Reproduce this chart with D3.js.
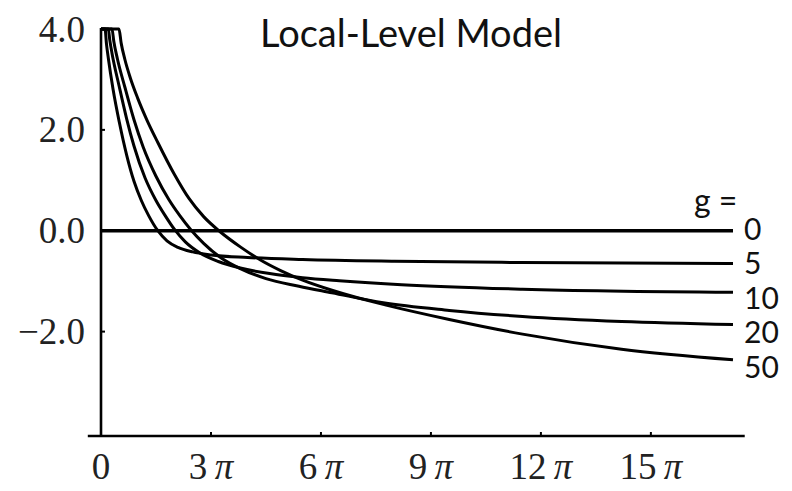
<!DOCTYPE html>
<html>
<head>
<meta charset="utf-8">
<script src="https://cdn.jsdelivr.net/npm/d3@7"></script>
<style>
  html, body { margin: 0; padding: 0; background: #fff; }
  svg { display: block; }
</style>
</head>
<body>
<svg id="chart" width="792" height="491"></svg>
<script>
// Frequency in multiples of pi, value of each curve (clipped at 4.0 near the origin)
const g0  = [[0, 0], [17.24, 0]];
const g5  = [[0, 4], [0.11, 4], [0.15, 3.7], [0.2, 3.42], [0.33, 2.8], [0.5, 2.15], [0.7, 1.5],
             [0.9, 0.98], [1.1, 0.6], [1.3, 0.3], [1.55, 0.0], [1.8, -0.2], [2.1, -0.33],
             [2.5, -0.42], [3.0, -0.48], [4.0, -0.53], [5.5, -0.57], [8.0, -0.605],
             [11.5, -0.63], [17.24, -0.65]];
const g10 = [[0, 4], [0.2, 4], [0.24, 3.78], [0.3, 3.52], [0.5, 2.85], [0.7, 2.22], [0.9, 1.68],
             [1.2, 1.05], [1.5, 0.6], [1.75, 0.3], [2.0, 0.03], [2.3, -0.22], [2.7, -0.44],
             [3.2, -0.61], [3.8, -0.74], [4.6, -0.85], [5.5, -0.93], [6.5, -0.99],
             [8.2, -1.07], [11.5, -1.16], [17.24, -1.22]];
const g20 = [[0, 4], [0.3, 4], [0.35, 3.75], [0.45, 3.4], [0.65, 2.85], [0.9, 2.2], [1.15, 1.66],
             [1.5, 1.08], [1.85, 0.62], [2.15, 0.3], [2.45, 0.02], [2.8, -0.25], [3.3, -0.55],
             [3.8, -0.75], [4.5, -0.95], [5.4, -1.1], [6.3, -1.23], [7.7, -1.43],
             [9.5, -1.58], [11.5, -1.70], [14.2, -1.80], [17.24, -1.86]];
const g50 = [[0, 4], [0.49, 4], [0.55, 3.72], [0.65, 3.4], [0.8, 3.03], [1.0, 2.63], [1.25, 2.2],
             [1.55, 1.75], [2.0, 1.12], [2.4, 0.64], [2.8, 0.28], [3.25, -0.02], [3.8, -0.32],
             [4.35, -0.58], [4.9, -0.79], [5.5, -0.98], [6.3, -1.18], [7.0, -1.33],
             [7.75, -1.47], [9.5, -1.76], [11.5, -2.05], [14.2, -2.35], [17.24, -2.56]];

const seriesNames = ["0", "5", "10", "20", "50"];
const seriesData  = [g0, g5, g10, g20, g50];

const xTicks = [0, 3, 6, 9, 12, 15];
const yTicks = [4, 2, 0, -2];
const titleText = "Local-Level Model";
const legendHead = "g =";

const svg = d3.select("#chart");

const x = d3.scaleLinear().domain([0, 17.24]).range([101, 733]);
const y = d3.scaleLinear().domain([-4.07, 4]).range([436, 29]);

// axis lines
svg.append("line")
  .attr("x1", x(-0.36)).attr("x2", x(17.56))
  .attr("y1", y(-4.07)).attr("y2", y(-4.07))
  .attr("stroke", "#000").attr("stroke-width", 2.6);
svg.append("line")
  .attr("x1", x(0)).attr("x2", x(0))
  .attr("y1", y(4) - 1).attr("y2", y(-4.07) + 1)
  .attr("stroke", "#000").attr("stroke-width", 2.6);

// tick marks, drawn inside the frame
svg.append("g").selectAll("line").data(xTicks.filter(d => d > 0)).join("line")
  .attr("x1", d => x(d)).attr("x2", d => x(d))
  .attr("y1", y(-4.07)).attr("y2", y(-4.07) - 4)
  .attr("stroke", "#000").attr("stroke-width", 2);
svg.append("g").selectAll("line").data(yTicks).join("line")
  .attr("x1", x(0)).attr("x2", x(0) + 4)
  .attr("y1", d => y(d)).attr("y2", d => y(d))
  .attr("stroke", "#000").attr("stroke-width", 2);

// tick labels
const serif = "'Liberation Serif', 'Times New Roman', serif";
svg.append("g").selectAll("text").data(yTicks).join("text")
  .attr("x", 85).attr("y", d => y(d))
  .attr("dy", "0.34em")
  .attr("text-anchor", "end")
  .attr("font-family", serif).attr("font-size", 37)
  .attr("fill", "#222")
  .text(d => (d < 0 ? "\u2212" : "") + Math.abs(d).toFixed(1));

const xl = svg.append("g").selectAll("text").data(xTicks).join("text")
  .attr("x", d => x(d)).attr("y", 479)
  .attr("text-anchor", "middle")
  .attr("font-family", serif).attr("font-size", 37)
  .attr("fill", "#222");
xl.append("tspan").text(d => d === 0 ? "0" : d + "\u2009");
xl.filter(d => d !== 0).append("tspan").attr("font-style", "italic").text("\u03c0");

// curves
const line = d3.line().x(d => x(d[0])).y(d => y(d[1])).curve(d3.curveMonotoneX);
svg.append("g").selectAll("path").data(seriesData).join("path")
  .attr("d", line)
  .attr("fill", "none")
  .attr("stroke", "#000")
  .attr("stroke-width", (d, i) => i === 0 ? 3.4 : 3)
  .attr("stroke-linejoin", "round");

// labels at the right ends of the curves
const sans = "Lato, 'Open Sans', sans-serif";
svg.append("g").selectAll("text").data(seriesData).join("text")
  .attr("x", 744)
  .attr("y", (d, i) => y(d[d.length - 1][1]) + [-2, 0, 6, 8, 7][i])
  .attr("dy", "0.36em")
  .attr("font-family", sans).attr("font-size", 30)
  .attr("fill", "#111")
  .text((d, i) => seriesNames[i]);

svg.append("text")
  .attr("x", 694).attr("y", 212)
  .attr("font-family", sans).attr("font-size", 32)
  .attr("fill", "#111")
  .text(legendHead);

svg.append("text")
  .attr("x", 411).attr("y", 47)
  .attr("text-anchor", "middle")
  .attr("font-family", sans).attr("font-size", 38)
  .attr("fill", "#111")
  .text(titleText);
</script>
</body>
</html>
